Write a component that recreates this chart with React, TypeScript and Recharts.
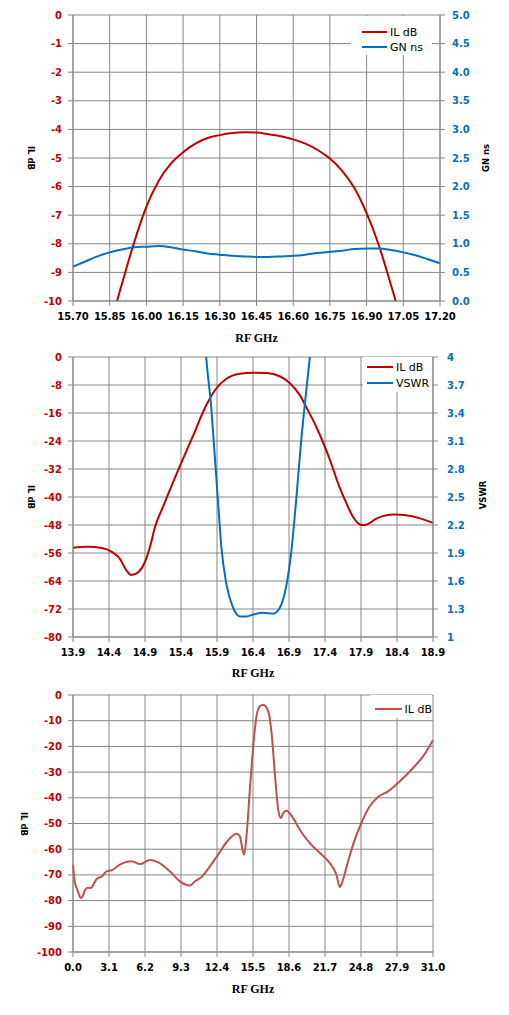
import React from 'react'
import { LineChart, Line, XAxis, YAxis, CartesianGrid, Legend } from 'recharts'

const GRID = '#868686'
const RED = '#C00000'
const BLUE = '#0070C0'
const RED_SOFT = '#C0504D'
const TICK_FONT = 'DejaVu Sans'

// passband: insertion loss + group delay
const passFreq = [15.85, 15.9, 15.95, 16.0, 16.05, 16.1, 16.15, 16.2, 16.25, 16.3, 16.35, 16.4, 16.45, 16.5, 16.55, 16.6, 16.65, 16.7, 16.75, 16.8, 16.85, 16.9, 16.95, 17.0, 17.05]
const passIL = [-10.9, -9.4, -7.95, -6.7, -5.8, -5.2, -4.8, -4.5, -4.3, -4.2, -4.13, -4.1, -4.11, -4.17, -4.24, -4.35, -4.5, -4.72, -5.02, -5.45, -6.05, -6.93, -8.05, -9.45, -10.9]
const gdFreq = [15.7, 15.75, 15.8, 15.85, 15.9, 15.95, 16.0, 16.05, 16.1, 16.15, 16.2, 16.25, 16.3, 16.35, 16.4, 16.45, 16.5, 16.55, 16.6, 16.65, 16.7, 16.75, 16.8, 16.85, 16.9, 16.95, 17.0, 17.05, 17.1, 17.15, 17.2]
const gdNs = [0.6, 0.69, 0.78, 0.85, 0.9, 0.94, 0.95, 0.96, 0.94, 0.9, 0.87, 0.83, 0.81, 0.79, 0.78, 0.77, 0.77, 0.78, 0.79, 0.81, 0.84, 0.86, 0.88, 0.91, 0.92, 0.92, 0.89, 0.85, 0.8, 0.73, 0.66]
const passTicksX = [15.7, 15.85, 16.0, 16.15, 16.3, 16.45, 16.6, 16.75, 16.9, 17.05, 17.2]
const passTicksIL = [0, -1, -2, -3, -4, -5, -6, -7, -8, -9, -10]
const passTicksGN = [0, 0.5, 1, 1.5, 2, 2.5, 3, 3.5, 4, 4.5, 5]

// mid span: insertion loss + VSWR
const midFreq = [13.9, 14.1, 14.3, 14.45, 14.55, 14.64, 14.71, 14.81, 14.9, 14.97, 15.04, 15.15, 15.38, 15.57, 15.75, 15.89, 16.03, 16.22, 16.4, 16.59, 16.77, 16.91, 17.05, 17.14, 17.28, 17.47, 17.6, 17.7, 17.79, 17.91, 17.97, 18.12, 18.36, 18.53, 18.72, 18.9]
const midIL = [-54.5, -54.2, -54.6, -55.8, -57.6, -60.9, -62.3, -61.4, -58.5, -54.2, -48.5, -42.8, -31.4, -22.4, -13.8, -9.0, -6.2, -4.76, -4.47, -4.57, -5.5, -7.4, -10.9, -14.3, -20.0, -29.5, -37.1, -41.9, -45.7, -48.0, -47.9, -46.1, -45.0, -45.2, -46.1, -47.4]
const vswrFreq = [15.7, 15.75, 15.82, 15.87, 15.92, 15.96, 16.03, 16.12, 16.22, 16.31, 16.4, 16.54, 16.68, 16.77, 16.86, 16.93, 17.0, 17.07, 17.14, 17.19, 17.24]
const vswr = [4.6, 4.0, 3.46, 2.93, 2.39, 1.97, 1.57, 1.32, 1.22, 1.22, 1.24, 1.26, 1.25, 1.31, 1.54, 1.9, 2.47, 3.11, 3.64, 4.0, 4.4]
const midTicksX = [13.9, 14.4, 14.9, 15.4, 15.9, 16.4, 16.9, 17.4, 17.9, 18.4, 18.9]
const midTicksIL = [0, -8, -16, -24, -32, -40, -48, -56, -64, -72, -80]
const midTicksVSWR = [1, 1.3, 1.6, 1.9, 2.2, 2.5, 2.8, 3.1, 3.4, 3.7, 4]

// wide span: insertion loss
const wideFreq = [0.0, 0.17, 0.32, 0.52, 0.66, 0.83, 1.03, 1.23, 1.52, 2.04, 2.47, 2.9, 3.33, 4.04, 5.05, 5.76, 6.62, 7.34, 8.34, 9.21, 10.07, 10.5, 11.07, 11.79, 12.5, 13.22, 14.08, 14.37, 14.6, 14.74, 14.94, 15.23, 15.52, 15.8, 16.09, 16.38, 16.81, 17.1, 17.38, 17.67, 17.9, 18.1, 18.38, 18.96, 19.53, 20.39, 21.25, 22.11, 22.68, 22.97, 23.25, 23.69, 24.12, 24.83, 25.55, 26.27, 27.13, 28.14, 29.28, 30.14, 31.0]
const wideIL = [-66.0, -73.2, -75.1, -77.7, -79.0, -78.3, -76.0, -75.0, -75.1, -71.6, -70.6, -68.6, -68.2, -66.0, -64.7, -65.8, -64.2, -65.1, -68.6, -72.5, -74.1, -72.5, -70.8, -66.7, -62.1, -57.3, -54.0, -55.0, -60.2, -62.1, -55.0, -36.8, -20.0, -8.3, -4.4, -3.8, -6.4, -14.8, -30.4, -44.6, -47.9, -45.9, -45.0, -47.9, -52.4, -57.6, -61.5, -65.4, -69.9, -74.7, -71.9, -64.7, -58.2, -49.8, -43.3, -39.7, -37.5, -33.6, -28.4, -23.9, -17.6]
const wideTicksX = [0, 3.1, 6.2, 9.3, 12.4, 15.5, 18.6, 21.7, 24.8, 27.9, 31]
const wideTicksIL = [0, -10, -20, -30, -40, -50, -60, -70, -80, -90, -100]

const rows = (xs: number[], ys: number[]) => xs.map((f, i) => ({ f, v: ys[i] }))

const tickStyle = (fill: string) => ({ fill, fontSize: 10, fontWeight: 'bold', fontFamily: TICK_FONT })

const xLabel = (offset: number) => ({
  value: 'RF GHz',
  position: 'insideBottom' as const,
  offset,
  fill: '#000',
  fontSize: 12,
  fontWeight: 'bold',
  fontFamily: 'Liberation Serif',
})

// legend keeps the series order given in `order` (recharts sorts by name otherwise)
const legendContent = (opts: { order: string[]; padTop: number; padLeft: number; row: number; lineW: number }) => (props: any) => {
  const items = [...(props.payload || [])].sort((a: any, b: any) => opts.order.indexOf(a.value) - opts.order.indexOf(b.value))
  return (
    <div style={{ background: '#fff', paddingTop: opts.padTop, paddingLeft: opts.padLeft, boxSizing: 'border-box', width: '100%', height: '100%' }}>
      {items.map((p: any) => (
        <div key={p.value} style={{ display: 'flex', alignItems: 'center', height: opts.row, fontFamily: TICK_FONT, fontSize: 11, color: '#000', whiteSpace: 'nowrap' }}>
          <span style={{ display: 'inline-block', width: opts.lineW, height: 2, background: p.color, marginRight: 3 }} />
          <span>{p.value}</span>
        </div>
      ))}
    </div>
  )
}

const AxisTitle = ({ text, x, y, angle }: { text: string; x: number; y: number; angle: number }) => (
  <div
    style={{
      position: 'absolute',
      left: x,
      top: y,
      transform: `translate(-50%, -50%) rotate(${angle}deg)`,
      fontFamily: TICK_FONT,
      fontWeight: 'bold',
      fontSize: 8.5,
      color: '#000',
      whiteSpace: 'nowrap',
      lineHeight: 1,
    }}
  >
    {text}
  </div>
)

export default function App() {
  return (
    <div style={{ position: 'absolute', left: 0, top: 0, width: 509, height: 1015, background: '#fff', overflow: 'hidden' }}>
      <div style={{ position: 'absolute', left: 0, top: 0 }}>
        <LineChart width={509} height={345} margin={{ top: 15, right: 0, bottom: 0, left: 0 }}>
          <CartesianGrid yAxisId="il" stroke={GRID} />
          <XAxis type="number" dataKey="f" domain={[15.7, 17.2]} ticks={passTicksX} interval={0} tickFormatter={(v: number) => v.toFixed(2)}
            stroke={GRID} tickSize={5} tickMargin={7} height={44} tick={tickStyle('#000')} label={xLabel(3)} />
          <YAxis yAxisId="il" domain={[-10, 0]} ticks={passTicksIL} interval={0} allowDataOverflow width={73}
            stroke={GRID} tickSize={5} tickMargin={6} tick={tickStyle(RED)} />
          <YAxis yAxisId="gn" orientation="right" domain={[0, 5]} ticks={passTicksGN} interval={0} width={69}
            tickFormatter={(v: number) => v.toFixed(1)} stroke={GRID} tickSize={5} tickMargin={7} tick={tickStyle(BLUE)} />
          <Line yAxisId="il" data={rows(passFreq, passIL)} dataKey="v" name="IL dB" type="monotone" stroke={RED} strokeWidth={2} dot={false} isAnimationActive={false} />
          <Line yAxisId="gn" data={rows(gdFreq, gdNs)} dataKey="v" name="GN ns" type="monotone" stroke={BLUE} strokeWidth={2} dot={false} isAnimationActive={false} />
          <Legend layout="vertical" align="center" verticalAlign="middle"
            wrapperStyle={{ left: 351, top: 16, width: 81, height: 39 }}
            content={legendContent({ order: ['IL dB', 'GN ns'], padTop: 8.5, padLeft: 11, row: 15, lineW: 25 })} />
        </LineChart>
        <AxisTitle text="IL dB" x={31} y={158} angle={90} />
        <AxisTitle text="GN ns" x={486} y={158} angle={-90} />
      </div>

      <div style={{ position: 'absolute', left: 0, top: 342 }}>
        <LineChart width={509} height={337} margin={{ top: 15, right: 0, bottom: 0, left: 0 }}>
          <CartesianGrid yAxisId="il" stroke={GRID} />
          <XAxis type="number" dataKey="f" domain={[13.9, 18.9]} ticks={midTicksX} interval={0} tickFormatter={(v: number) => v.toFixed(1)}
            stroke={GRID} tickSize={5} tickMargin={7} height={42} tick={tickStyle('#000')} label={xLabel(2)} />
          <YAxis yAxisId="il" domain={[-80, 0]} ticks={midTicksIL} interval={0} allowDataOverflow width={73}
            stroke={GRID} tickSize={5} tickMargin={6} tick={tickStyle(RED)} />
          <YAxis yAxisId="vswr" orientation="right" domain={[1, 4]} ticks={midTicksVSWR} interval={0} allowDataOverflow width={76}
            tickFormatter={(v: number) => String(v)} stroke={GRID} tickSize={5} tickMargin={9} tick={tickStyle(BLUE)} />
          <Line yAxisId="il" data={rows(midFreq, midIL)} dataKey="v" name="IL dB" type="monotone" stroke={RED} strokeWidth={2} dot={false} isAnimationActive={false} />
          <Line yAxisId="vswr" data={rows(vswrFreq, vswr)} dataKey="v" name="VSWR" type="monotone" stroke={BLUE} strokeWidth={2} dot={false} isAnimationActive={false} />
          <Legend layout="vertical" align="center" verticalAlign="middle"
            wrapperStyle={{ left: 363, top: 15, width: 69, height: 35 }}
            content={legendContent({ order: ['IL dB', 'VSWR'], padTop: 2, padLeft: 4, row: 16, lineW: 26 })} />
        </LineChart>
        <AxisTitle text="IL dB" x={31} y={155} angle={90} />
        <AxisTitle text="VSWR" x={483} y={153} angle={-90} />
      </div>

      <div style={{ position: 'absolute', left: 0, top: 680 }}>
        <LineChart width={509} height={317} margin={{ top: 15, right: 76, bottom: 0, left: 0 }}>
          <CartesianGrid stroke={GRID} />
          <XAxis type="number" dataKey="f" domain={[0, 31]} ticks={wideTicksX} interval={0} tickFormatter={(v: number) => v.toFixed(1)}
            stroke={GRID} tickSize={5} tickMargin={7} height={45} tick={tickStyle('#000')} label={xLabel(4)} />
          <YAxis domain={[-100, 0]} ticks={wideTicksIL} interval={0} allowDataOverflow width={73}
            stroke={GRID} tickSize={5} tickMargin={6} tick={tickStyle(RED)} />
          <Line data={rows(wideFreq, wideIL)} dataKey="v" name="IL dB" type="monotone" stroke={RED_SOFT} strokeWidth={2} dot={false} isAnimationActive={false} />
          <Legend layout="vertical" align="center" verticalAlign="middle"
            wrapperStyle={{ left: 370, top: 15, width: 62, height: 23 }}
            content={legendContent({ order: ['IL dB'], padTop: 6, padLeft: 5, row: 16, lineW: 27 })} />
        </LineChart>
        <AxisTitle text="IL dB" x={24} y={144} angle={90} />
      </div>
    </div>
  )
}
